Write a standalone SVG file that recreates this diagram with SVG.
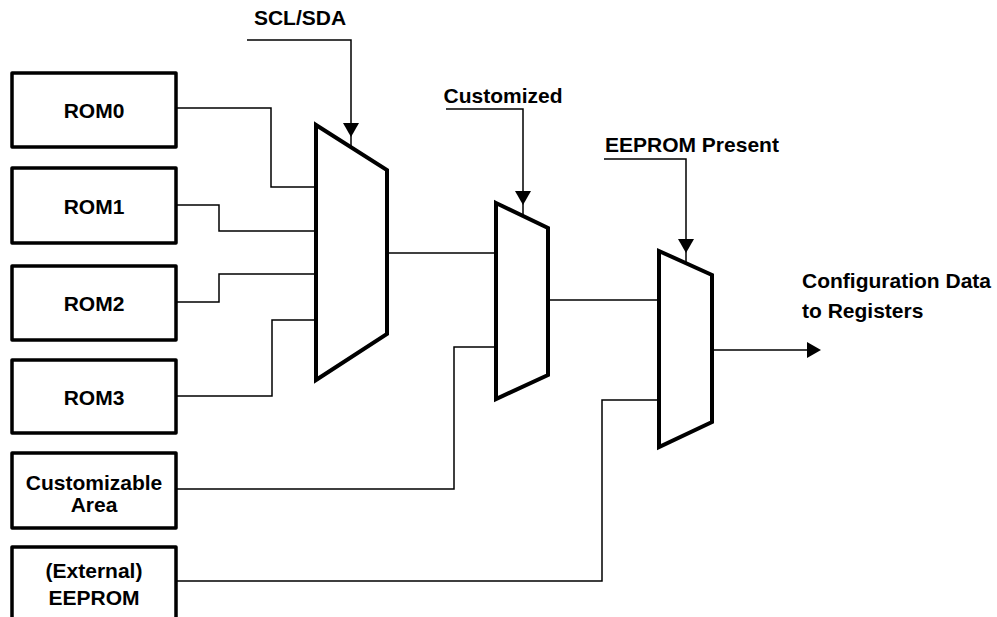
<svg xmlns="http://www.w3.org/2000/svg" width="997" height="617" viewBox="0 0 997 617">
<style>
  .box { fill: #fff; stroke: #000; stroke-width: 3.5; stroke-linejoin: round; }
  .mux { fill: #fff; stroke: #000; stroke-width: 4; stroke-linejoin: miter; }
  .wire { fill: none; stroke: #000; stroke-width: 1.5; }
  .lbl { font-family: "Liberation Sans", Arial, sans-serif; font-weight: bold; font-size: 21px; fill: #000; }
  .c { text-anchor: middle; }
</style>
<defs>
  <polygon id="ahDown" points="0,0 -8,-14 8,-14" fill="#000"/>
  <polygon id="ahRight" points="0,0 -14,-8 -14,8" fill="#000"/>
</defs>
<rect width="997" height="617" fill="#fff"/>

<g id="connectors">
  <path class="wire" d="M176,108 H271 V187 H316"/>
  <path class="wire" d="M176,205 H219 V231 H316"/>
  <path class="wire" d="M176,302 H219 V274 H316"/>
  <path class="wire" d="M176,396 H272 V320 H316"/>
  <path class="wire" d="M387,253 H496"/>
  <path class="wire" d="M176,489 H454 V347 H496"/>
  <path class="wire" d="M548,300 H659"/>
  <path class="wire" d="M176,581 H602 V400 H659"/>
  <path class="wire" d="M712,350 H809"/>
  <use href="#ahRight" x="821" y="350"/>
  <path class="wire" d="M247,40 H351 V147"/>
  <use href="#ahDown" x="351" y="137"/>
  <path class="wire" d="M446,109 H523 V216"/>
  <use href="#ahDown" x="523" y="205"/>
  <path class="wire" d="M604,159 H686 V263"/>
  <use href="#ahDown" x="686" y="253"/>
</g>

<g id="rom0"><rect class="box" x="12" y="73" width="164" height="74"/><text class="lbl c" x="94" y="118">ROM0</text></g>
<g id="rom1"><rect class="box" x="12" y="168" width="164" height="75"/><text class="lbl c" x="94" y="214">ROM1</text></g>
<g id="rom2"><rect class="box" x="12" y="266" width="164" height="74"/><text class="lbl c" x="94" y="311">ROM2</text></g>
<g id="rom3"><rect class="box" x="12" y="360" width="164" height="73"/><text class="lbl c" x="94" y="405">ROM3</text></g>
<g id="custArea"><rect class="box" x="12" y="453" width="164" height="75"/><text class="lbl c" x="94" y="490">Customizable</text><text class="lbl c" x="94" y="512">Area</text></g>
<g id="extEeprom"><rect class="box" x="12" y="547" width="164" height="90"/><text class="lbl c" x="94" y="578">(External)</text><text class="lbl c" x="94" y="605">EEPROM</text></g>

<g id="mux1"><polygon class="mux" points="316,125 387,170 387,334 316,380"/></g>
<g id="mux2"><polygon class="mux" points="496,203 548,228 548,375 496,399"/></g>
<g id="mux3"><polygon class="mux" points="659,251 712,275 712,422 659,447"/></g>

<g id="sclsda"><text class="lbl c" x="300" y="25">SCL/SDA</text></g>
<g id="customized"><text class="lbl c" x="503" y="103">Customized</text></g>
<g id="eepromPresent"><text class="lbl" x="605" y="152">EEPROM Present</text></g>
<g id="output"><text class="lbl" x="802" y="288">Configuration Data</text><text class="lbl" x="802" y="318">to Registers</text></g>
</svg>
